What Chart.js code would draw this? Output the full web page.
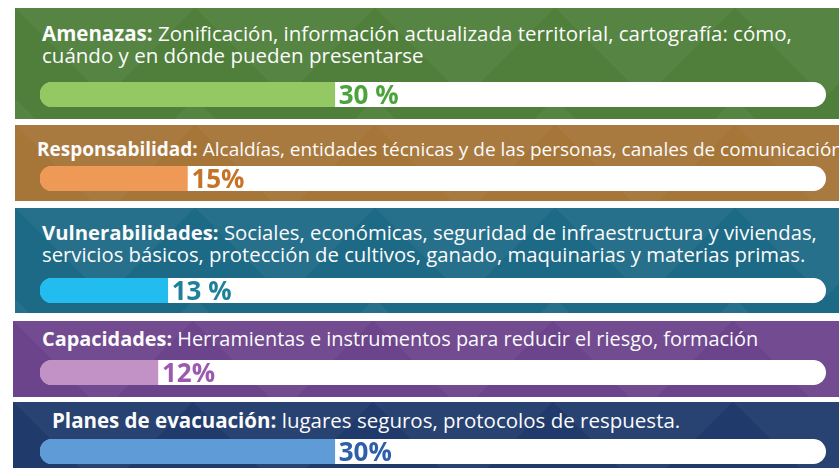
<!DOCTYPE html>
<html>
<head>
<meta charset="utf-8">
<script src="https://cdn.jsdelivr.net/npm/chart.js@4/dist/chart.umd.min.js"></script>
<style>
  html, body { margin: 0; padding: 0; background: #fff; }
  #page { position: relative; width: 839px; height: 468px; overflow: hidden; font-family: "Open Sans", sans-serif; }
  .panel {
    position: absolute; right: 0;
    background-image:
      linear-gradient(135deg, rgba(255,255,255,0.04) 25%, transparent 25%),
      linear-gradient(225deg, rgba(255,255,255,0.04) 25%, transparent 25%),
      linear-gradient(315deg, rgba(255,255,255,0.04) 25%, transparent 25%),
      linear-gradient(45deg, rgba(255,255,255,0.04) 25%, transparent 25%);
    background-position: -90px 0, -90px 0, 0 0, 0 0;
    background-size: 180px 180px;
  }
  .txt { position: absolute; color: #fbfbfb; line-height: 22px; white-space: nowrap; }
  .txt b { font-weight: 700; }
  .bar { position: absolute; }
</style>
</head>
<body>
<div id="page"></div>
<script>
// data
const categories = ['Amenazas', 'Responsabilidad', 'Vulnerabilidades', 'Capacidades', 'Planes de evacuación'];
const descriptions = [
    ['Zonificación, información actualizada territorial, cartografía: cómo,', 'cuándo y en dónde pueden presentarse'],
    ['Alcaldías, entidades técnicas y de las personas, canales de comunicación'],
    ['Sociales, económicas, seguridad de infraestructura y viviendas,', 'servicios básicos, protección de cultivos, ganado, maquinarias y materias primas.'],
    ['Herramientas e instrumentos para reducir el riesgo, formación'],
    ['lugares seguros, protocolos de respuesta.']
];
const values = [30, 15, 13, 12, 30];
const percentLabels = ['30 %', '15%', '13 %', '12%', '30%'];
const scaleMax = 80;

// styles
const panelColors = ['#4f7f3b', '#a67538', '#1d6a87', '#6c448c', '#1f3a6b'];
const fillColors = ['#94c862', '#ee9a56', '#22bdee', '#c291c5', '#5f9bd6'];
const labelColors = ['#4ba33c', '#c6732a', '#1f8099', '#9b59b0', '#2f5fa8'];

// layout (px)
const layout = [
    { top: 8,   height: 111, left: 15, textTop: 22,  textLeft: 42, fontSize: 20.5, barTop: 82 },
    { top: 125, height: 76,  left: 15, textTop: 138, textLeft: 37, fontSize: 19,   barTop: 166 },
    { top: 208, height: 105, left: 15, textTop: 221, textLeft: 42, fontSize: 20.3, barTop: 278 },
    { top: 321, height: 76,  left: 13, textTop: 328, textLeft: 42, fontSize: 19.9, barTop: 360 },
    { top: 402, height: 66,  left: 13, textTop: 409, textLeft: 52, fontSize: 20.5, barTop: 439 }
];
const trackLeft = 40, trackRight = 826, barHeight = 25, pad = 6;

// white track behind each bar
const trackPlugin = {
    id: 'track',
    beforeDatasetsDraw(chart) {
        const ctx = chart.ctx;
        const x = chart.scales.x;
        chart.getDatasetMeta(0).data.forEach(bar => {
            const top = bar.y - bar.height / 2;
            const left = x.getPixelForValue(0);
            const w = x.getPixelForValue(scaleMax) - left;
            ctx.save();
            ctx.fillStyle = '#ffffff';
            ctx.beginPath();
            ctx.roundRect(left, top, w, bar.height, bar.height / 2);
            ctx.fill();
            ctx.restore();
        });
    }
};

// percentage label right after the fill
const labelPlugin = {
    id: 'pctLabel',
    afterDatasetsDraw(chart, args, opts) {
        const ctx = chart.ctx;
        const bar = chart.getDatasetMeta(0).data[0];
        ctx.save();
        ctx.font = 'bold 26px "Open Sans", sans-serif';
        ctx.fillStyle = opts.color;
        ctx.textBaseline = 'middle';
        ctx.textAlign = 'left';
        ctx.fillText(opts.text, bar.x + 4, bar.y + 2);
        ctx.restore();
    }
};

const page = document.getElementById('page');

categories.forEach((cat, i) => {
    const L = layout[i];
    const panel = document.createElement('div');
    panel.className = 'panel';
    panel.style.top = L.top + 'px';
    panel.style.left = L.left + 'px';
    panel.style.height = L.height + 'px';
    panel.style.backgroundColor = panelColors[i];
    page.appendChild(panel);

    const txt = document.createElement('div');
    txt.className = 'txt';
    txt.style.top = L.textTop + 'px';
    txt.style.left = L.textLeft + 'px';
    txt.style.fontSize = L.fontSize + 'px';
    const b = document.createElement('b');
    b.textContent = cat + ':';
    txt.appendChild(b);
    descriptions[i].forEach((line, j) => {
        if (j > 0) txt.appendChild(document.createElement('br'));
        txt.appendChild(document.createTextNode((j === 0 ? ' ' : '') + line));
    });
    page.appendChild(txt);

    const wrap = document.createElement('div');
    wrap.className = 'bar';
    wrap.style.left = trackLeft + 'px';
    wrap.style.top = (L.barTop - pad) + 'px';
    const canvas = document.createElement('canvas');
    canvas.width = trackRight - trackLeft;
    canvas.height = barHeight + pad * 2;
    canvas.style.width = canvas.width + 'px';
    canvas.style.height = canvas.height + 'px';
    wrap.appendChild(canvas);
    page.appendChild(wrap);

    new Chart(canvas, {
        type: 'bar',
        data: {
            labels: [cat],
            datasets: [{
                data: [values[i]],
                backgroundColor: fillColors[i],
                borderSkipped: false,
                borderRadius: { topLeft: 13, bottomLeft: 13, topRight: 0, bottomRight: 0 },
                barPercentage: 1,
                categoryPercentage: 1
            }]
        },
        options: {
            indexAxis: 'y',
            responsive: false,
            animation: false,
            layout: { padding: { top: pad, bottom: pad, left: 0, right: 0 } },
            scales: {
                x: { min: 0, max: scaleMax, display: false },
                y: { display: false }
            },
            plugins: {
                legend: { display: false },
                tooltip: { enabled: false },
                pctLabel: { text: percentLabels[i], color: labelColors[i] }
            }
        },
        plugins: [trackPlugin, labelPlugin]
    });
});
</script>
</body>
</html>
